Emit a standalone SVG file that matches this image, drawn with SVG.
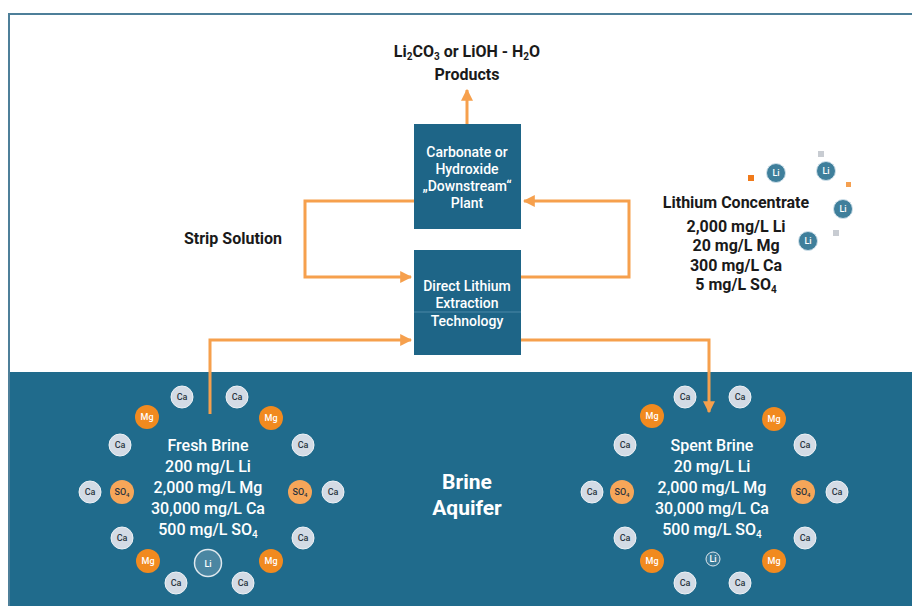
<svg xmlns="http://www.w3.org/2000/svg" width="912" height="606" viewBox="0 0 912 606">
<defs>
<style>
.t{font-family:Roboto,"Liberation Sans",sans-serif;font-weight:bold;text-anchor:middle}
.dk{fill:#1a1a1a;font-size:16px}
.bx{fill:#ffffff;font-size:14px;font-weight:500}
.wt{fill:#ffffff;font-size:16px;font-weight:500}
.box{fill:#1e6587}
.con{fill:none;stroke:#f6a04d;stroke-width:3;stroke-linejoin:miter}
.ca{fill:#d3dbe5;stroke:#eef2f6;stroke-width:1}
.mg{fill:#f18a1f}
.so{fill:#f6a659}
.it{font-family:Roboto,"Liberation Sans",sans-serif;font-size:9px;text-anchor:middle;font-weight:500}
.itd{fill:#2a3440}
.itw{fill:#ffffff}
.li{fill:#3f7f9b;stroke:#cfe0ea;stroke-width:1}
</style>
<marker id="ah" viewBox="0 0 10 10" refX="9" refY="5" markerWidth="4" markerHeight="4" orient="auto" markerUnits="strokeWidth">
<path d="M0,0 L10,5 L0,10 z" fill="#f6a04d"/>
</marker>
<g id="ion-ca"><circle r="11" class="ca"/><text class="it itd" y="3">Ca</text></g>
<g id="ion-mg"><circle r="12" class="mg"/><text class="it itw" y="3">Mg</text></g>
<g id="ion-so"><circle r="12" class="so"/><text class="it itd" y="3">SO<tspan font-size="6" dy="2">4</tspan></text></g>
</defs>
<rect x="0" y="0" width="912" height="606" fill="#ffffff"/>
<rect x="10" y="372" width="902" height="234" fill="#206b8c"/>
<path d="M9,606 V14 H912" fill="none" stroke="#4d7f99" stroke-width="2"/>

<g id="products">
<text class="t dk" x="467" y="57">Li<tspan font-size="10" dy="3">2</tspan><tspan dy="-3">CO</tspan><tspan font-size="10" dy="3">3</tspan><tspan dy="-3"> or LiOH - H</tspan><tspan font-size="10" dy="3">2</tspan><tspan dy="-3">O</tspan></text>
<text class="t dk" x="467" y="80">Products</text>
</g>

<g id="downstream">
<rect class="box" x="414" y="124" width="107" height="105"/>
<text class="t bx" x="467" y="157">Carbonate or</text>
<text class="t bx" x="467" y="174">Hydroxide</text>
<text class="t bx" x="467" y="191">„Downstream“</text>
<text class="t bx" x="467" y="208">Plant</text>
</g>

<g id="dle">
<rect class="box" x="414" y="250" width="107" height="105"/>
<line x1="414" y1="312" x2="521" y2="312" stroke="#4a88a6" stroke-width="1"/>
<text class="t bx" x="467" y="291">Direct Lithium</text>
<text class="t bx" x="467" y="308">Extraction</text>
<text class="t bx" x="467" y="326">Technology</text>
</g>

<g id="strip">
<text class="t dk" x="233" y="244">Strip Solution</text>
</g>

<g id="concentrate">
<text class="t dk" x="736" y="208">Lithium Concentrate</text>
<text class="t dk" x="736" y="232">2,000 mg/L Li</text>
<text class="t dk" x="736" y="251">20 mg/L Mg</text>
<text class="t dk" x="736" y="271">300 mg/L Ca</text>
<text class="t dk" x="736" y="290">5 mg/L SO<tspan font-size="10" dy="3">4</tspan></text>
<circle cx="776" cy="173" r="9.5" class="li"/><text class="it itw" x="776" y="176">Li</text>
<circle cx="826" cy="171" r="9.5" class="li"/><text class="it itw" x="826" y="174">Li</text>
<circle cx="843" cy="209" r="9.5" class="li"/><text class="it itw" x="843" y="212">Li</text>
<circle cx="808" cy="241" r="9.5" class="li"/><text class="it itw" x="808" y="244">Li</text>
<rect x="748" y="175" width="6" height="6" fill="#f07a1a"/>
<rect x="846" y="182" width="5" height="5" fill="#f5a050"/>
<rect x="818" y="151" width="6" height="6" fill="#c8ccd2"/>
<rect x="833" y="230" width="6" height="6" fill="#c8ccd2"/>
</g>

<g id="connectors">
<path class="con" d="M467,124 V90" marker-end="url(#ah)"/>
<path class="con" d="M414,201 H305 V277 H411" marker-end="url(#ah)"/>
<path class="con" d="M521,277 H629 V201 H524" marker-end="url(#ah)"/>
<path class="con" d="M210,414 V340 H411" marker-end="url(#ah)"/>
<path class="con" d="M521,340 H709 V412" marker-end="url(#ah)"/>
</g>

<g id="aquifer">
<text class="t" x="467" y="489" fill="#ffffff" font-size="21" font-weight="500">Brine</text>
<text class="t" x="467" y="515" fill="#ffffff" font-size="21" font-weight="500">Aquifer</text>
</g>

<g id="fresh-brine">
<text class="t wt" x="208" y="451">Fresh Brine</text>
<text class="t wt" x="208" y="472">200 mg/L Li</text>
<text class="t wt" x="208" y="493">2,000 mg/L Mg</text>
<text class="t wt" x="208" y="514">30,000 mg/L Ca</text>
<text class="t wt" x="208" y="535">500 mg/L SO<tspan font-size="10" dy="3">4</tspan></text>
<use href="#ion-ca" x="182" y="397"/>
<use href="#ion-ca" x="237" y="397"/>
<use href="#ion-mg" x="147" y="417"/>
<use href="#ion-mg" x="271" y="418"/>
<use href="#ion-ca" x="120" y="445"/>
<use href="#ion-ca" x="303" y="445"/>
<use href="#ion-ca" x="90" y="492"/>
<use href="#ion-so" x="122" y="492"/>
<use href="#ion-so" x="300" y="492"/>
<use href="#ion-ca" x="333" y="492"/>
<use href="#ion-ca" x="122" y="538"/>
<use href="#ion-ca" x="303" y="538"/>
<use href="#ion-mg" x="148" y="561"/>
<use href="#ion-mg" x="271" y="561"/>
<circle cx="208" cy="563" r="13.5" fill="#4a86a2" stroke="#dfe8ee" stroke-width="1.5"/>
<text class="it itw" x="208" y="566.5" font-size="10">Li</text>
<use href="#ion-ca" x="176" y="583"/>
<use href="#ion-ca" x="243" y="583"/>
</g>

<g id="spent-brine">
<text class="t wt" x="712" y="451">Spent Brine</text>
<text class="t wt" x="712" y="472">20 mg/L Li</text>
<text class="t wt" x="712" y="493">2,000 mg/L Mg</text>
<text class="t wt" x="712" y="514">30,000 mg/L Ca</text>
<text class="t wt" x="712" y="535">500 mg/L SO<tspan font-size="10" dy="3">4</tspan></text>
<use href="#ion-ca" x="685" y="397"/>
<use href="#ion-ca" x="740" y="397"/>
<use href="#ion-mg" x="652" y="416"/>
<use href="#ion-mg" x="774" y="419"/>
<use href="#ion-ca" x="625" y="445"/>
<use href="#ion-ca" x="805" y="445"/>
<use href="#ion-ca" x="592" y="492"/>
<use href="#ion-so" x="622" y="492"/>
<use href="#ion-so" x="803" y="492"/>
<use href="#ion-ca" x="837" y="492"/>
<use href="#ion-ca" x="625" y="538"/>
<use href="#ion-ca" x="805" y="538"/>
<use href="#ion-mg" x="652" y="561"/>
<use href="#ion-mg" x="774" y="561"/>
<circle cx="713" cy="559" r="7" fill="#3a7a97" stroke="#dfe8ee" stroke-width="1"/>
<text class="it itw" x="713" y="561.5" font-size="6">Li</text>
<use href="#ion-ca" x="685" y="583"/>
<use href="#ion-ca" x="740" y="583"/>
</g>
</svg>
